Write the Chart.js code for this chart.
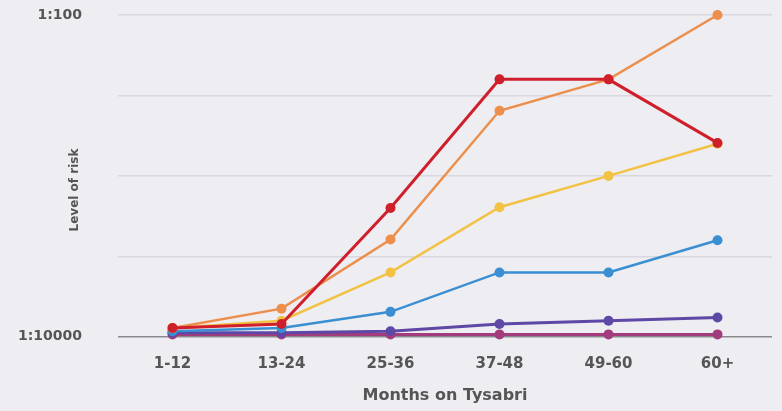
<!DOCTYPE html>
<html lang="en">
<head>
    <meta charset="UTF-8">
    <title>Level of risk by months on Tysabri</title>
    <script src="https://cdn.jsdelivr.net/npm/chart.js"></script>
    <style>
        html, body {
            margin: 0;
            padding: 0;
            background-color: #eeedf2;
        }
        #wrap {
            width: 782px;
            height: 411px;
        }
    </style>
</head>
<body>
    <div id="wrap"><canvas id="riskChart"></canvas></div>

    <script>
        // categories
        var months = ['1-12', '13-24', '25-36', '37-48', '49-60', '60+'];

        // risk level, in grid steps above 1:10000 (4 = 1:100)
        var redRisk    = [0.11, 0.16, 1.6, 3.2, 3.2, 2.41];
        var orangeRisk = [0.11, 0.35, 1.21, 2.81, 3.2, 4.0];
        var yellowRisk = [0.11, 0.2, 0.8, 1.61, 2.0, 2.4];
        var blueRisk   = [0.07, 0.11, 0.31, 0.8, 0.8, 1.2];
        var purpleRisk = [0.05, 0.05, 0.07, 0.16, 0.2, 0.24];
        var pinkRisk   = [0.03, 0.03, 0.03, 0.03, 0.03, 0.03];

        var tickLabels = { 0: '1:10000', 4: '1:100' };

        function series(data, color, width) {
            return {
                data: data,
                borderColor: color,
                backgroundColor: color,
                borderWidth: width,
                pointRadius: 5,
                pointBorderWidth: 0,
                tension: 0,
                clip: false
            };
        }

        // y-axis title sits close to the plot, drawn by hand
        var yTitle = {
            id: 'yTitle',
            afterDraw: function (chart) {
                var ctx = chart.ctx;
                ctx.save();
                ctx.translate(75, 190);
                ctx.rotate(-Math.PI / 2);
                ctx.fillStyle = '#555';
                ctx.font = 'bold 12px "DejaVu Sans"';
                ctx.textAlign = 'center';
                ctx.textBaseline = 'middle';
                ctx.fillText('Level of risk', 0, 0);
                ctx.restore();
            }
        };

        var ctx = document.getElementById('riskChart').getContext('2d');
        var riskChart = new Chart(ctx, {
            type: 'line',
            data: {
                labels: months,
                datasets: [
                    series(redRisk, '#cf1f2b', 3),
                    series(orangeRisk, '#ec8f4c', 2.5),
                    series(yellowRisk, '#f2c244', 2.5),
                    series(blueRisk, '#3a8fd2', 2.5),
                    series(purpleRisk, '#5e48a6', 3),
                    series(pinkRisk, '#a23c7c', 3)
                ]
            },
            plugins: [yTitle],
            options: {
                responsive: true,
                maintainAspectRatio: false,
                animation: false,
                layout: {
                    padding: { top: 15, right: 10, bottom: 6, left: 0 }
                },
                plugins: {
                    legend: { display: false },
                    tooltip: { enabled: false }
                },
                scales: {
                    x: {
                        offset: true,
                        grid: { display: false },
                        border: { display: false },
                        ticks: {
                            color: '#555',
                            padding: 10,
                            font: { family: 'DejaVu Sans', size: 15, weight: 'bold' }
                        },
                        title: {
                            display: true,
                            text: 'Months on Tysabri',
                            color: '#555',
                            padding: { top: 3, bottom: 0 },
                            font: { family: 'DejaVu Sans', size: 16, weight: 'bold' }
                        }
                    },
                    y: {
                        min: 0,
                        max: 4,
                        afterFit: function (scale) {
                            scale.width = 118;
                            scale.paddingTop = 0;
                            scale.paddingBottom = 0;
                        },
                        border: { display: false },
                        grid: {
                            drawTicks: false,
                            lineWidth: 1.5,
                            color: function (c) { return c.tick.value === 0 ? '#8a8a8e' : '#d9d8de'; }
                        },
                        ticks: {
                            stepSize: 1,
                            padding: 36,
                            color: '#555',
                            font: { family: 'DejaVu Sans', size: 14, weight: 'bold' },
                            callback: function (value) { return tickLabels[value] || ''; }
                        }
                    }
                }
            }
        });
    </script>
</body>
</html>
